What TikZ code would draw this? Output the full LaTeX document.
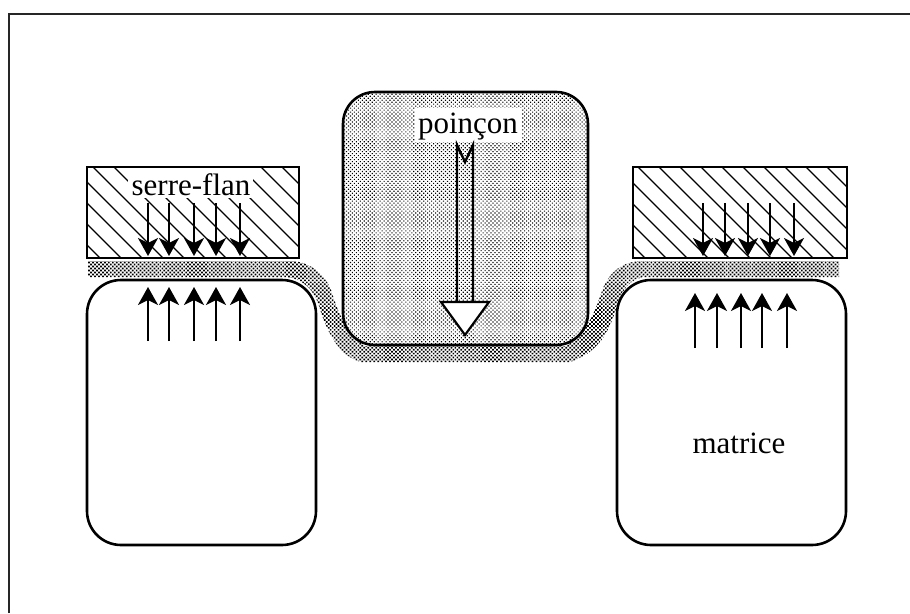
\documentclass[tikz,border=0pt]{standalone}
\usepackage{fontspec}
\setmainfont{Liberation Serif}
\usetikzlibrary{arrows.meta,patterns.meta}
\tikzset{
  x=1pt,y=-1pt,
  frameline/.style={draw=black!85,line width=2pt},
  diebox/.style={draw=black,line width=2.6pt,rounded corners=34pt},
  hatchbox/.style={draw=black,line width=2.4pt},
  hatchline/.style={draw=black,line width=1.2pt},
  force/.style={draw=black,line width=2.4pt,-{Stealth[length=18pt,width=20pt,inset=5pt]}},
  lab/.style={font=\fontsize{31}{33}\selectfont,inner sep=0pt},
  stripfill/.style={pattern={Dots[distance=2.8pt,radius=1.2pt,angle=45]},pattern color=black},
  punchfill/.style={pattern={Dots[distance=2.8pt,radius=0.8pt,angle=45]},pattern color=black},
}
\begin{document}
\begin{tikzpicture}
\useasboundingbox (0,0) rectangle (910,613);
\fill[white] (0,0) rectangle (910,613);
\draw[frameline] (9,613) -- (9,14) -- (910,14);
% strip
\path[stripfill] (88,261) -- (293,261) .. controls (312,263) and (325,275) .. (331,290)
  .. controls (337,308) and (343,330) .. (365,346) -- (566,346)
  .. controls (590,330) and (596,308) .. (603,288)
  .. controls (610,272) and (622,262) .. (640,261) -- (839,261) -- (839,277) -- (646,277)
  .. controls (630,278) and (622,290) .. (617,305)
  .. controls (610,330) and (600,352) .. (570,362) -- (361,362)
  .. controls (338,356) and (326,330) .. (318,303)
  .. controls (313,290) and (303,278) .. (285,277) -- (88,277) -- cycle;
% punch
\path[punchfill] (343,92) [rounded corners=32pt] -- (588,92) -- (588,345) -- (343,345) -- cycle;
\draw[diebox,rounded corners=32pt] (343,92) rectangle (588,345);
% dies
\draw[diebox] (87,280) rectangle (316,545);
\draw[diebox] (617,280) rectangle (846,545);
% clamps
\begin{scope}
\clip (87,167) rectangle (299,258);
\foreach \c in {-200,-179,...,120} \draw[hatchline] (\c,0) -- (\c+400,400);
\end{scope}
\begin{scope}
\clip (633,167) rectangle (847,258);
\foreach \c in {240,261,...,700} \draw[hatchline] (\c,0) -- (\c+400,400);
\end{scope}
\node[fill=white,minimum width=125pt,minimum height=32pt,inner sep=0pt] (sfbg) at (190.5,182) {};
\draw[hatchbox] (87,167) rectangle (299,258);
\draw[hatchbox] (633,167) rectangle (847,258);
\node[lab,anchor=base] (serre) at (191,195) {serre-flan};
% force arrows
\foreach \x in {148,169,194,216,240} \draw[force] (\x,203) -- (\x,256);
\foreach \x in {148,169,194,216,240} \draw[force] (\x,341) -- (\x,287);
\foreach \x in {703,725,748,770,794} \draw[force] (\x,203) -- (\x,256);
\foreach \x in {695,717,741,762,787} \draw[force] (\x,348) -- (\x,293);
% punch arrow
\node[fill=white,minimum width=107pt,minimum height=34pt,inner sep=0pt] (pbg) at (468.5,125) {};
\node[lab,anchor=base] (poincon) at (468,133) {poinçon};
\draw[black,line width=2.4pt,line join=miter] (457,302) -- (457,145) -- (465,162) -- (473,145) -- (473,302);
\draw[black,line width=2.2pt,fill=white,line join=miter] (441,302) -- (489,302) -- (465,335) -- cycle;
\node[lab,anchor=base] (matrice) at (739,453) {matrice};
\end{tikzpicture}
\end{document}
